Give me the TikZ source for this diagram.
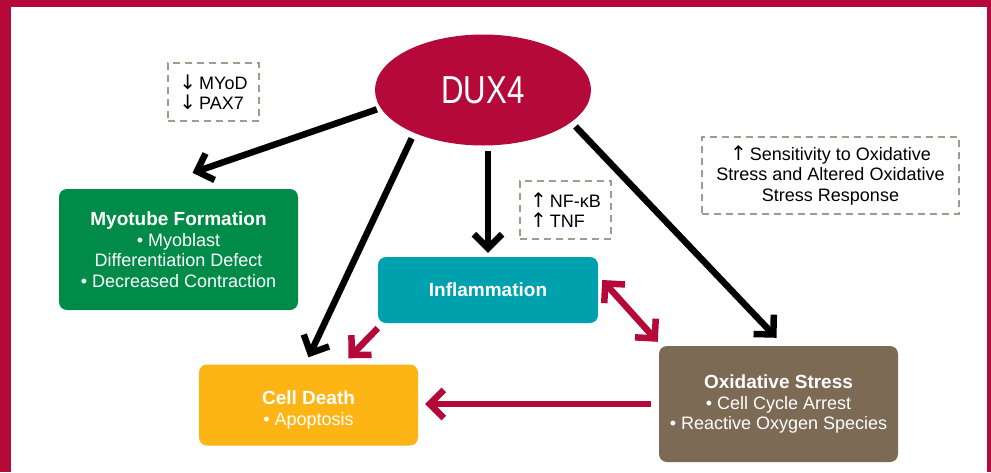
\documentclass[tikz,border=0pt]{standalone}
\usepackage{fontspec}
\setmainfont{Liberation Sans}
\newfontfamily\duxfont[FakeStretch=0.8]{Liberation Sans}
\newfontfamily\arrowfont{DejaVu Sans}
\newcommand{\uparr}{{\arrowfont\fontsize{20}{20.5}\selectfont ↑}\,}
\newcommand{\downarr}{{\arrowfont\fontsize{20}{20.5}\selectfont ↓}\,}
\usetikzlibrary{shapes.geometric,arrows.meta}
\definecolor{crimson}{RGB}{181,9,58}
\definecolor{myogreen}{RGB}{0,140,72}
\definecolor{infteal}{RGB}{0,161,175}
\definecolor{deathyellow}{RGB}{253,180,21}
\definecolor{oxbrown}{RGB}{124,106,85}
\definecolor{dashgrey}{RGB}{166,153,140}

\begin{document}
\begin{tikzpicture}[x=1pt, y=-1pt,
        box/.style={rectangle, rounded corners=8pt, text=white, align=center, inner sep=0pt, font=\fontsize{18}{20.5}\selectfont},
        note/.style={draw=dashgrey, dash pattern=on 7pt off 5pt, line width=1.8pt, inner sep=0pt, font=\fontsize{18}{20.5}\selectfont},
        blk/.style={line width=6.5pt, line join=miter, -{Straight Barb[length=14pt,width=28pt]}},
        redarrow/.style={blk, draw=crimson},
        redboth/.style={redarrow, {Straight Barb[length=14pt,width=28pt]}-{Straight Barb[length=14pt,width=28pt]}}]
        \fill[crimson] (0,0) rectangle (991,472);
        \fill[white] (11,7) rectangle (987,472);
        \useasboundingbox (0,0) rectangle (991,472);

        \node[ellipse, fill=crimson, minimum width=216pt, minimum height=111pt, text=white, font=\duxfont\fontsize{39}{40}\selectfont] (dux) at (483,90) {DUX4};

        \node[box, fill=myogreen, minimum width=239pt, minimum height=121pt] (myo) at (178.5,249.5) {{\bfseries\fontsize{19}{20.5}\selectfont Myotube Formation}\\ • Myoblast\\ Differentiation Defect\\ • Decreased Contraction};
        \node[box, fill=infteal, minimum width=220pt, minimum height=66pt] (infl) at (488,290) {{\bfseries\fontsize{19}{20.5}\selectfont Inflammation}};
        \node[box, fill=deathyellow, minimum width=219pt, minimum height=81pt] (death) at (308.5,405) {\rule{0pt}{24pt}{\bfseries\fontsize{19}{20.5}\selectfont Cell Death}\\ • Apoptosis};
        \node[box, fill=oxbrown, minimum width=239pt, minimum height=116pt] (oxi) at (778.5,404) {{\bfseries\fontsize{19}{20.5}\selectfont Oxidative Stress}\\ • Cell Cycle Arrest\\ • Reactive Oxygen Species};

        \node[note, minimum width=91pt, minimum height=58pt, align=left] (myod) at (213.5,92) {\downarr MYoD\\ \downarr PAX7};
        \node[note, minimum width=91pt, minimum height=58pt, align=left] (nfkb) at (565.5,210) {\uparr NF-κB\\ \uparr TNF};
        \node[note, minimum width=257pt, minimum height=77pt, align=center] (sens) at (830.5,175.5) {\uparr Sensitivity to Oxidative\\ Stress and Altered Oxidative\\ Stress Response};

        % DUX4 effects
        \draw[blk, shorten <=4pt] (dux.190) -- ([xshift=14pt, yshift=16pt]myo.north);
        \draw[blk, shorten <=6pt] (dux.212) -- ([yshift=7pt]death.north);
        \draw[blk, shorten <=5pt] (dux.south -| infl.north) -- ([yshift=4pt]infl.north);
        \draw[blk, shorten <=6pt] (dux.-20) -- ([xshift=-2pt, yshift=8pt]oxi.north);

        % feedback between the effects
        \draw[redarrow] ([yshift=-5pt]infl.south west) -- ([xshift=40pt, yshift=6pt]death.north);
        \draw[redboth] ([xshift=4pt, yshift=10pt]infl.east) -- ([xshift=-1pt, yshift=4pt]oxi.north west);
        \draw[redarrow, shorten <=8pt, shorten >=7pt] (oxi.west) -- (oxi.west -| death.east);
    \end{tikzpicture}
\end{document}
